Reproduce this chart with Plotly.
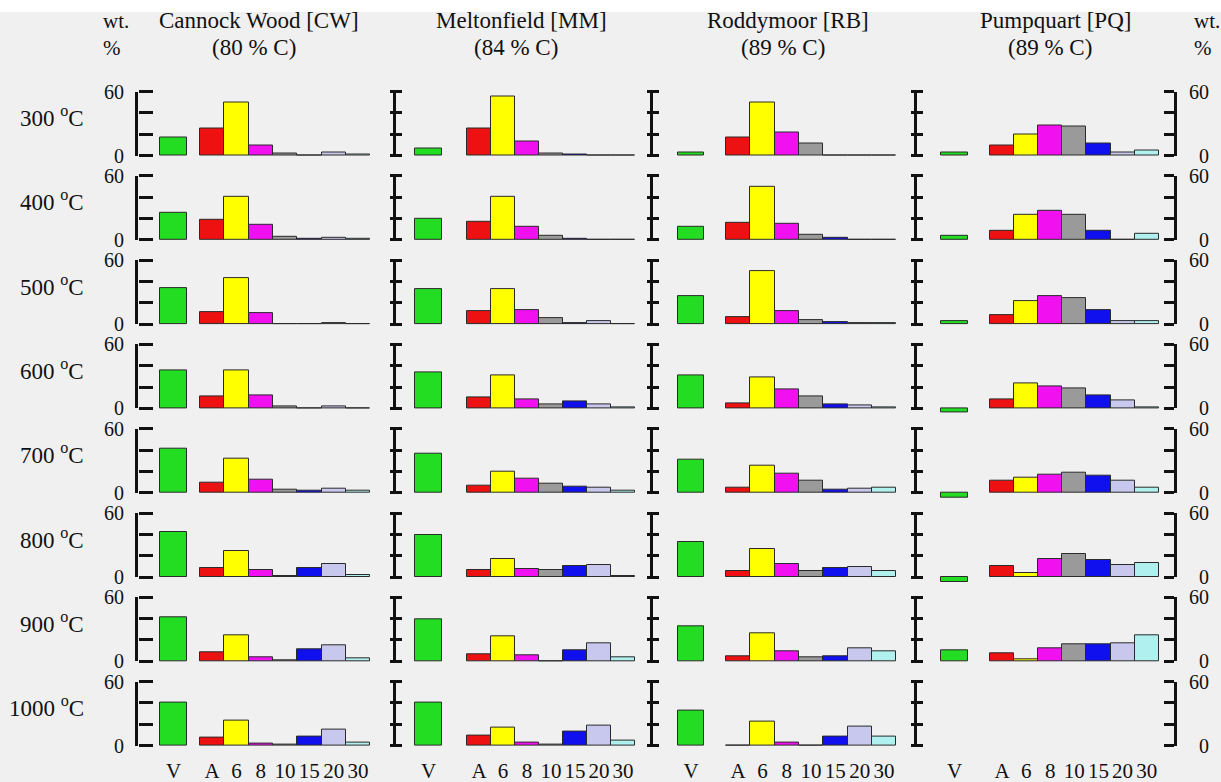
import plotly.graph_objects as go

# ---- data -------------------------------------------------------------
temperatures = ["300", "400", "500", "600", "700", "800", "900", "1000"]
fractions = ["V", "A", "6", "8", "10", "15", "20", "30"]
coal_names = ["Cannock Wood [CW]", "Meltonfield [MM]", "Roddymoor [RB]", "Pumpquart [PQ]"]
carbon_pct = ["80", "84", "89", "89"]

# wt.% per temperature row: V, A, 6, 8, 10, 15, 20, 30
cw = [
    [17, 25, 50, 9, 1.5, 0.3, 3, 1],
    [25, 19, 40, 14, 3, 1, 1.5, 0.5],
    [34, 11, 43, 10, 0.3, 0.3, 1, 0.3],
    [36, 11, 36, 12, 2, 0.3, 1.5, 0.3],
    [41, 9, 32, 12, 3, 2, 4, 1.5],
    [42, 8, 24, 6.5, 1, 8, 12, 1.5],
    [41, 8, 24, 4, 1, 11, 15, 3],
    [40, 7.5, 23, 2, 0.5, 8, 15, 3],
]
mm = [
    [7, 25, 55, 13, 1.5, 0.5, 0.3, 0.3],
    [20, 17, 40, 12, 4, 1, 0.3, 0.3],
    [33, 12, 33, 13.5, 5.5, 0.5, 3, 0.3],
    [34, 10, 31, 8, 4, 6.5, 3.5, 0.5],
    [37, 7, 20, 13, 8, 6, 5, 2],
    [39, 7, 16.5, 7.5, 6.5, 10, 11.5, 0.5],
    [39, 6.5, 23.5, 6, 0.3, 10.5, 17, 3.5],
    [40, 9.5, 17, 3, 1, 13.5, 18.5, 4.5],
]
rb = [
    [3, 17, 50, 22, 11, 0.3, 0.3, 0.3],
    [12, 16, 50, 15, 5, 2, 0.3, 0.3],
    [26, 6.5, 49.5, 12.5, 3.5, 1.5, 0.5, 0.5],
    [31, 5, 29, 18, 11, 4, 2.5, 0.5],
    [31, 5, 25, 18, 11, 3, 3.5, 4.5],
    [32.5, 6, 26.5, 12, 6, 8, 9, 6],
    [33, 5, 26.5, 9, 3.5, 5, 12, 9.5],
    [33, 0.3, 22.5, 3, 0.3, 8.5, 17.5, 8],
]
pq = [
    [3, 9.5, 20, 28, 27.5, 11, 2.5, 4.5],
    [3.5, 8.5, 23, 27, 23, 8, 0.3, 6],
    [3, 8.5, 22, 26.5, 24.5, 13, 3, 3],
    [-4, 8, 23.5, 21, 19, 12, 7.5, 1],
    [-5, 11.5, 14.5, 16.5, 18.5, 15.5, 11.5, 5],
    [-5, 10.5, 3.5, 16.5, 21.5, 15.5, 11.5, 13],
    [10, 7.5, 1.5, 12, 15.5, 15.5, 17, 24],
    None,
]
coal_data = [cw, mm, rb, pq]

bar_colors = ["#22dd22", "#ee1111", "#ffff00", "#f010f0",
              "#9a9a9a", "#1010ee", "#c8c8ee", "#b0f0ee"]

# ---- page geometry (pixels) ------------------------------------------
W, H = 1221, 782
FONT = "Liberation Serif, Tinos, Times New Roman, Times, serif"
INK = "#111111"
BG = "#f0f0f0"


def fx(p):
    return p / W


def fy(p):
    return 1 - p / H


# per column: axis line x, V bar centre, left edge of first size bar,
# bar pitch and right edge of the panel
columns = [
    dict(axis=138, v=173.5, s=200, u=24.3, right=378),
    dict(axis=396, v=428.5, s=467, u=24.0, right=642),
    dict(axis=653, v=691.0, s=726, u=24.3, right=903),
    dict(axis=917, v=954.5, s=990, u=24.1, right=1174),
]
ROW0, ROW_PITCH, SPAN = 155.5, 84.3, 64.0   # baseline of first row, spacing, px per 60 %
PAD_LO, PAD_HI = 12, 4

fig = go.Figure()
layout = {}
ycount = [0]


def new_y():
    ycount[0] += 1
    n = ycount[0]
    return ("y" if n == 1 else f"y{n}"), ("yaxis" if n == 1 else f"yaxis{n}")


def empty_trace(xref, yref):
    fig.add_trace(go.Scatter(x=[], y=[], xaxis=xref, yaxis=yref,
                             showlegend=False, hoverinfo="skip"))


common = dict(showgrid=False, zeroline=False, range=[0, 60], fixedrange=True,
              automargin=False)
# vertical axis line only
line_only = dict(common, showline=True, linecolor=INK, linewidth=2.5,
                 ticks="", showticklabels=False)
# tick marks only (line hidden), drawn outward from a free position
tick_only = dict(common, showline=False, tickcolor=INK, tickwidth=2.5,
                 tickvals=[0, 20, 40, 60], ticks="outside",
                 showticklabels=False, anchor="free")
label_font = dict(family=FONT, size=20, color=INK)


def add_y(xref, spec):
    ref, key = new_y()
    layout[key] = dict({"anchor": xref}, **spec)
    empty_trace(xref, ref)
    return ref


n_rows = len(temperatures)
bottom_deco = {}

for c, col in enumerate(columns):
    xref = "x" if c == 0 else f"x{c + 1}"
    xkey = "xaxis" if c == 0 else f"xaxis{c + 1}"
    offset = (col["s"] - col["v"]) / col["u"] + 0.5
    xpos = [0] + [offset + k for k in range(len(fractions) - 1)]
    x_lo = (col["axis"] - col["v"]) / col["u"]
    x_hi = (col["right"] - col["v"]) / col["u"]
    a = col["axis"]

    for r in range(n_rows):
        base = ROW0 + ROW_PITCH * r
        top = base - SPAN
        dom = [fy(base), fy(top)]

        # left axis line over exactly 0..60 %
        deco_ref = add_y(xref, dict(line_only, domain=dom, side="left"))
        if c == 0:
            # ticks pointing into the panel, labels on the left
            add_y(xref, dict(tick_only, domain=dom, side="right",
                             position=fx(a), ticklen=14))
            add_y(xref, dict(common, domain=dom, side="left", showline=False,
                             ticks="", tickvals=[0, 60], ticktext=["0", "60"],
                             ticklabelstandoff=13, tickfont=label_font))
        else:
            # ticks crossing the line
            add_y(xref, dict(tick_only, domain=dom, side="left",
                             position=fx(a + 6), ticklen=12))
        if c == len(columns) - 1:
            add_y(xref, dict(line_only, domain=dom, side="right"))
            add_y(xref, dict(tick_only, domain=dom, side="left",
                             position=fx(col["right"]), ticklen=10))
            add_y(xref, dict(common, domain=dom, side="right", showline=False,
                             ticks="", tickvals=[0, 60],
                             ticktext=["\u00a0\u00a00", "60"],
                             ticklabelstandoff=14, tickfont=label_font))
        if r == n_rows - 1:
            bottom_deco[c] = deco_ref

        # data axis: a little taller so negative bars are not clipped
        data_ref, data_key = new_y()
        k = 60 / SPAN
        layout[data_key] = dict(visible=False, automargin=False,
                                domain=[fy(base + PAD_LO), fy(top - PAD_HI)],
                                range=[-PAD_LO * k, 60 + PAD_HI * k], anchor=xref,
                                fixedrange=True)
        values = coal_data[c][r]
        if values is not None:
            fig.add_trace(go.Bar(
                x=xpos, y=values, xaxis=xref, yaxis=data_ref,
                width=[1.1] + [1.0] * (len(fractions) - 1),
                marker=dict(color=bar_colors, line=dict(color="#2a2a2a", width=1)),
                showlegend=False, hoverinfo="skip"))
        else:
            empty_trace(xref, data_ref)

    layout[xkey] = dict(domain=[fx(col["axis"]), fx(col["right"])],
                        range=[x_lo, x_hi], anchor=bottom_deco[c],
                        showline=False, showgrid=False, zeroline=False, ticks="",
                        tickvals=xpos, ticktext=fractions, ticklabelstandoff=10,
                        tickfont=dict(family=FONT, size=21, color=INK),
                        fixedrange=True, automargin=False)

# ---- text -------------------------------------------------------------
annotations = []
title_x = [259, 521, 788, 1055]
for name, pct, xc in zip(coal_names, carbon_pct, title_x):
    annotations.append(dict(text=name, x=fx(xc), y=fy(21), xanchor="center",
                            yanchor="middle"))
    annotations.append(dict(text=f"({pct} % C)", x=fx(xc - 5), y=fy(48),
                            xanchor="center", yanchor="middle"))
for xl in (101, 1192):
    annotations.append(dict(text="wt.", x=fx(xl), y=fy(21), xanchor="left",
                            yanchor="middle", font=dict(size=21)))
    annotations.append(dict(text="%", x=fx(xl), y=fy(48), xanchor="left",
                            yanchor="middle", font=dict(size=21)))
for r, t in enumerate(temperatures):
    base = ROW0 + ROW_PITCH * r
    annotations.append(dict(text=f"{t} <sup>o</sup>C", x=fx(86), y=fy(base - 39),
                            xanchor="right", yanchor="middle"))
for ann in annotations:
    ann.update(xref="paper", yref="paper", showarrow=False)
    ann["font"] = dict(dict(family=FONT, size=23, color=INK), **ann.get("font", {}))

fig.update_layout(
    width=W, height=H,
    margin=dict(l=0, r=0, t=0, b=0, autoexpand=False),
    paper_bgcolor=BG, plot_bgcolor="rgba(0,0,0,0)",
    font=dict(family=FONT, color=INK),
    annotations=annotations,
    shapes=[dict(type="rect", xref="paper", yref="paper", x0=0, x1=1,
                 y0=fy(12), y1=1, fillcolor="white", line=dict(width=0),
                 layer="below")],
    bargap=0,
    **layout,
)

fig.write_html("out.html")
